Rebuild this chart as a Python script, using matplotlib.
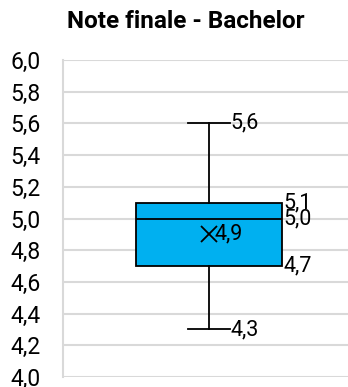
import matplotlib.pyplot as plt

title = "Note finale - Bachelor"
whislo = 4.3
q1 = 4.7
med = 5.0
q3 = 5.1
whishi = 5.6
mean = 4.9
yticks = [4.0, 4.2, 4.4, 4.6, 4.8, 5.0, 5.2, 5.4, 5.6, 5.8, 6.0]


def fmt(v):
    return ("%.1f" % v).replace(".", ",")


plt.rcParams['font.family'] = ['Roboto', 'DejaVu Sans']

fig = plt.figure(figsize=(3.48, 3.87), dpi=100)
ax = fig.add_axes([63 / 348, 10 / 387, 292 / 348, 317 / 387])

stats = [dict(whislo=whislo, q1=q1, med=med, q3=q3, whishi=whishi, mean=mean, fliers=[])]
ax.bxp(stats, positions=[1], widths=0.5, capwidths=0.144, showmeans=True,
       patch_artist=True,
       boxprops=dict(facecolor='#00b0f0', edgecolor='black', linewidth=1.3),
       medianprops=dict(color='black', linewidth=1.3),
       whiskerprops=dict(color='black', linewidth=1.3),
       capprops=dict(color='black', linewidth=1.3),
       meanprops=dict(marker='x', markeredgecolor='black', markersize=11,
                      markeredgewidth=1.3))

ax.set_xlim(0.5, 1.5)
ax.set_ylim(4.0, 6.0)
ax.set_yticks(yticks)
ax.set_yticklabels([fmt(t) for t in yticks], fontsize=16.5)
ax.set_xticks([])
ax.tick_params(axis='y', length=0, pad=16)
ax.grid(axis='y', color='#d9d9d9', linewidth=1.5)
ax.set_axisbelow(True)
for s in ['top', 'right', 'bottom']:
    ax.spines[s].set_visible(False)
ax.spines['left'].set_color('#d9d9d9')
ax.spines['left'].set_linewidth(1.5)

lab = dict(fontsize=15.5, va='center', ha='left', textcoords='offset points')
ax.annotate(fmt(whishi), (1.072, whishi), xytext=(0, 0), **lab)
ax.annotate(fmt(whislo), (1.072, whislo), xytext=(0, 0), **lab)
ax.annotate(fmt(q3), (1.25, q3), xytext=(1, 0), **lab)
ax.annotate(fmt(med), (1.25, med), xytext=(1, 0), **lab)
ax.annotate(fmt(q1), (1.25, q1), xytext=(1, 0), **lab)
ax.annotate(fmt(mean), (1, mean), xytext=(4, 0), **lab)

fig.text(186 / 348, 1 - 22 / 387, title, fontsize=17.5, fontweight='bold',
         ha='center', va='center')

fig.savefig('out.png', dpi=100)
